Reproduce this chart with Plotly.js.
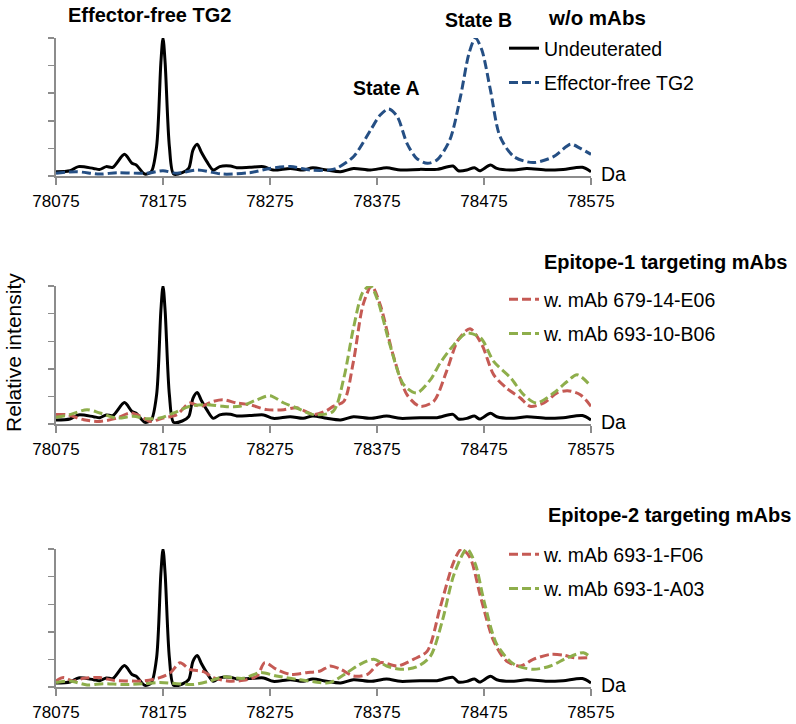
<!DOCTYPE html>
<html>
<head>
<meta charset="utf-8">
<script src="https://cdn.plot.ly/plotly-3.0.1.min.js"></script>
<style>html,body{margin:0;padding:0;background:#fff;}#chart{width:796px;height:724px;}</style>
</head>
<body>
<div id="chart"></div>
<script>
// Undeuterated TG2 (black, shown in all three panels)
const undeutX = [78075,78088,78096,78110,78116,78122,78128,78139,78146,78150,78158,78164,78169,78173,78175,78177,78181,78185,78193,78199,78203,78207,78211,78216,78222,78228,78238,78244,78256,78269,78278,78294,78306,78315,78328,78341,78353,78369,78384,78397,78415,78431,78446,78451,78459,78466,78471,78481,78487,78503,78515,78534,78549,78567,78575];
const undeutY = [0.031,0.038,0.068,0.055,0.048,0.068,0.063,0.157,0.092,0.080,0.014,0.031,0.212,0.82,1.0,0.82,0.21,0.014,0.024,0.055,0.188,0.23,0.17,0.104,0.043,0.068,0.072,0.06,0.063,0.068,0.043,0.055,0.043,0.06,0.043,0.031,0.055,0.043,0.06,0.043,0.048,0.048,0.072,0.038,0.043,0.06,0.038,0.08,0.055,0.043,0.055,0.043,0.048,0.063,0.031];

// Effector-free TG2 (blue dashed, panel 1)
const freeX = [78075,78094,78116,78132,78160,78175,78188,78207,78231,78256,78275,78294,78313,78330,78337,78353,78369,78378,78386,78394,78403,78412,78422,78431,78443,78453,78461,78467,78473,78481,78490,78503,78521,78540,78556,78565,78575];
const freeY = [0.02,0.031,0.014,0.024,0.02,0.038,0.02,0.043,0.014,0.024,0.055,0.068,0.043,0.043,0.055,0.14,0.333,0.442,0.486,0.43,0.237,0.128,0.092,0.116,0.26,0.575,0.889,1.0,0.913,0.623,0.285,0.14,0.097,0.14,0.23,0.2,0.157];

// Epitope-1: w. mAb 679-14-E06 (red) and w. mAb 693-10-B06 (green)
const e06X = [78075,78085,78101,78116,78132,78144,78154,78163,78175,78188,78200,78210,78222,78231,78244,78256,78272,78288,78300,78316,78328,78334,78344,78353,78362,78370,78378,78390,78403,78415,78428,78440,78451,78462,78473,78484,78496,78509,78518,78531,78543,78553,78565,78575];
const e06Y = [0.07,0.07,0.033,0.021,0.045,0.082,0.058,0.021,0.045,0.07,0.154,0.13,0.166,0.178,0.154,0.142,0.106,0.106,0.12,0.07,0.10,0.13,0.166,0.455,0.865,1.0,0.865,0.503,0.214,0.13,0.166,0.383,0.612,0.691,0.576,0.359,0.262,0.19,0.13,0.154,0.226,0.243,0.214,0.13];
const b06X = [78075,78088,78104,78116,78132,78147,78160,78172,78185,78200,78216,78231,78247,78263,78275,78288,78300,78316,78334,78344,78353,78362,78369,78376,78387,78400,78412,78425,78434,78447,78459,78472,78484,78500,78512,78524,78540,78553,78562,78575];
const b06Y = [0.05,0.07,0.106,0.082,0.045,0.058,0.04,0.045,0.082,0.13,0.142,0.13,0.13,0.178,0.207,0.154,0.118,0.07,0.094,0.335,0.696,0.96,1.0,0.889,0.576,0.286,0.226,0.323,0.443,0.576,0.66,0.624,0.455,0.335,0.214,0.154,0.226,0.311,0.359,0.275];

// Epitope-2: w. mAb 693-1-F06 (red) and w. mAb 693-1-A03 (green)
const f06X = [78075,78082,78091,78101,78116,78129,78141,78157,78172,78182,78191,78200,78213,78222,78235,78250,78263,78270,78281,78294,78309,78322,78331,78341,78353,78366,78378,78394,78409,78422,78434,78447,78454,78462,78472,78484,78496,78509,78521,78537,78549,78559,78575];
const f06Y = [0.046,0.07,0.046,0.065,0.07,0.05,0.046,0.046,0.07,0.106,0.178,0.13,0.113,0.07,0.046,0.05,0.082,0.178,0.13,0.094,0.106,0.118,0.154,0.13,0.082,0.094,0.178,0.154,0.202,0.262,0.576,0.913,1.0,0.937,0.648,0.335,0.19,0.154,0.202,0.238,0.233,0.214,0.214];
const a03X = [78075,78088,78104,78119,78138,78157,78172,78188,78203,78219,78231,78250,78266,78281,78300,78316,78331,78347,78359,78372,78384,78397,78412,78425,78436,78447,78459,78467,78475,78487,78503,78521,78537,78553,78568,78575];
const a03Y = [0.034,0.046,0.017,0.026,0.02,0.026,0.034,0.026,0.02,0.046,0.075,0.065,0.106,0.082,0.058,0.04,0.034,0.106,0.166,0.202,0.154,0.13,0.147,0.226,0.479,0.817,1.0,0.889,0.624,0.31,0.166,0.13,0.154,0.214,0.25,0.214];

const xTicks = [78075,78175,78275,78375,78475,78575];
const yTicks = [0,0.2,0.4,0.6,0.8,1.0];

const W = 796, H = 724, L = 56, R = 205;
const PW = W - L - R;
const px = p => (p - L) / PW;
const py = p => (H - p) / H;

const FONT = "'Liberation Sans', Arial, sans-serif";
const BLACK = '#000000', BLUE = '#254F84', RED = '#C55A54', GREEN = '#8EAE4B';
const DASH = '9px,4px';

function tr(x, y, name, color, dash, xa, ya, legend, show) {
  return {
    type: 'scatter', mode: 'lines', x: x, y: y, name: name,
    xaxis: xa, yaxis: ya, legend: legend, showlegend: show, legendgroup: name,
    line: {color: color, width: 3, dash: dash, shape: 'spline', smoothing: 0.8},
    hoverinfo: 'skip'
  };
}

const data = [
  tr(undeutX, undeutY, 'Undeuterated', BLACK, 'solid', 'x', 'y', 'legend', true),
  tr(freeX, freeY, 'Effector-free TG2', BLUE, DASH, 'x', 'y', 'legend', true),
  tr(undeutX, undeutY, 'Undeuterated ', BLACK, 'solid', 'x2', 'y2', 'legend2', false),
  tr(e06X, e06Y, 'w. mAb 679-14-E06', RED, DASH, 'x2', 'y2', 'legend2', true),
  tr(b06X, b06Y, 'w. mAb 693-10-B06', GREEN, DASH, 'x2', 'y2', 'legend2', true),
  tr(undeutX, undeutY, 'Undeuterated  ', BLACK, 'solid', 'x3', 'y3', 'legend3', false),
  tr(f06X, f06Y, 'w. mAb 693-1-F06', RED, DASH, 'x3', 'y3', 'legend3', true),
  tr(a03X, a03Y, 'w. mAb 693-1-A03', GREEN, DASH, 'x3', 'y3', 'legend3', true)
];

const AXC = '#8C8C8C';
function xax(anchor) {
  return {
    domain: [0, 1], anchor: anchor, range: [78075, 78575], tickvals: xTicks,
    ticktext: xTicks.map(String), showgrid: false, zeroline: false,
    showline: true, linecolor: AXC, linewidth: 1.6,
    ticks: 'outside', ticklen: 7, tickwidth: 1.6, tickcolor: AXC,
    tickfont: {family: FONT, size: 17, color: '#000'}, ticklabelstandoff: 2,
    automargin: false, fixedrange: true
  };
}
function yax(anchor, bottomPx, topPx) {
  return {
    domain: [py(bottomPx), py(topPx)], anchor: anchor, range: [0, 1.0],
    tickvals: yTicks, showticklabels: false, showgrid: false, zeroline: false,
    showline: true, linecolor: AXC, linewidth: 1.6,
    ticks: 'outside', ticklen: 6, tickwidth: 1.6, tickcolor: AXC,
    automargin: false, fixedrange: true
  };
}

function legendAt(topPx) {
  return {
    x: px(504), xanchor: 'left', y: py(topPx), yanchor: 'top',
    font: {family: FONT, size: 19.5, color: '#000'},
    bgcolor: 'rgba(0,0,0,0)', borderwidth: 0, tracegroupgap: 6,
    itemclick: false, itemdoubleclick: false
  };
}

function ann(text, cx, cy, size, bold) {
  return {
    text: bold ? '<b>' + text + '</b>' : text, xref: 'paper', yref: 'paper',
    x: px(cx), y: py(cy), xanchor: 'center', yanchor: 'middle', showarrow: false,
    font: {family: FONT, size: size, color: '#000'}
  };
}

const annotations = [
  ann('Effector-free TG2', 149, 15, 20, true),
  ann('w/o mAbs', 597, 17, 20.5, true),
  ann('State B', 478, 20, 19.5, true),
  ann('State A', 386, 88, 19.5, true),
  ann('Epitope-1 targeting mAbs', 665, 262, 20, true),
  ann('Epitope-2 targeting mAbs', 669, 515, 20, true),
  ann('Da', 613, 174, 19.5, false),
  ann('Da', 613, 422, 19.5, false),
  ann('Da', 613, 685, 19.5, false),
  Object.assign(ann('Relative intensity', 14, 353, 21, false), {textangle: -90})
];

const layout = {
  width: W, height: H,
  margin: {l: L, r: R, t: 0, b: 0, pad: 0},
  paper_bgcolor: '#ffffff', plot_bgcolor: '#ffffff',
  font: {family: FONT, color: '#000'},
  showlegend: true,
  xaxis: xax('y'), yaxis: yax('x', 176, 38),
  xaxis2: xax('y2'), yaxis2: yax('x2', 424.3, 286),
  xaxis3: xax('y3'), yaxis3: yax('x3', 687.3, 549),
  legend: legendAt(29), legend2: legendAt(280), legend3: legendAt(535),
  annotations: annotations
};

Plotly.newPlot('chart', data, layout, {displayModeBar: false, staticPlot: true});
</script>
</body>
</html>
